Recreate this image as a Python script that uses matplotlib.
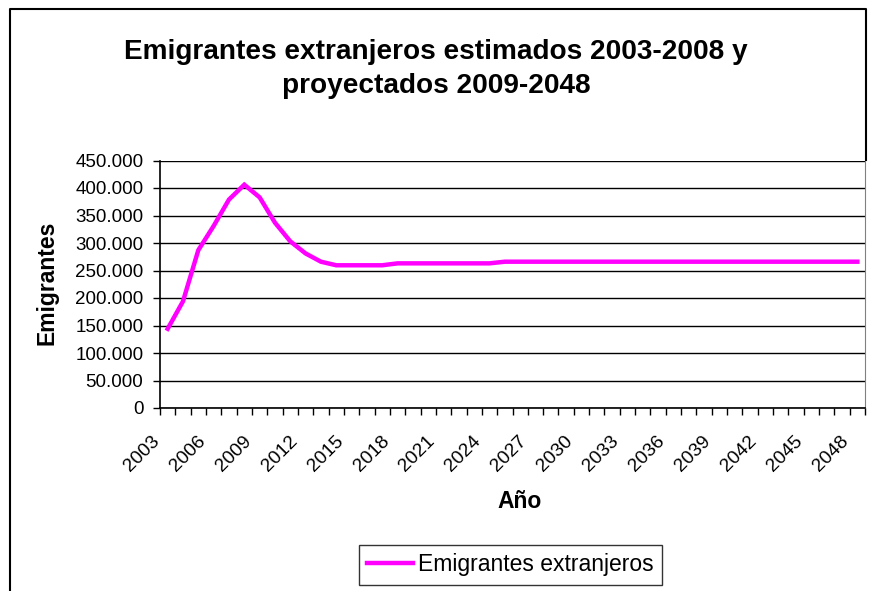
import numpy as np
import matplotlib
matplotlib.use("Agg")
import matplotlib.pyplot as plt
from matplotlib.lines import Line2D
from matplotlib.transforms import ScaledTranslation
from matplotlib.ticker import FuncFormatter

plt.rcParams['font.family'] = ['Liberation Sans', 'DejaVu Sans']

# emigrantes extranjeros por año (2003-2008 estimados, 2009-2048 proyectados)
years = list(range(2003, 2049))
emigrantes = [144000, 194000, 287000, 331000, 379000, 406000, 383000, 337000,
              303000, 281000, 266000, 259500, 259500, 259500, 259500,
              263000, 263000, 263000, 263000, 263000, 263000, 263000,
              266000, 266000, 266000, 266000, 266000, 266000, 266000, 266000,
              266000, 266000, 266000, 266000, 266000, 266000, 266000, 266000,
              266000, 266000, 266000, 266000, 266000, 266000, 266000, 266000]
label_years = years[::3]

fig = plt.figure(figsize=(8.72, 5.91), dpi=100)
ax = fig.add_axes([160 / 872, 1 - 408 / 591, 705 / 872, (408 - 160.5) / 591])

x = np.arange(len(years))
ax.plot(x, emigrantes, color='#FF00FF', lw=3.2, solid_joinstyle='miter',
        label='Emigrantes extranjeros', zorder=3)

ax.set_xlim(-0.5, len(years) - 0.5)
ax.set_ylim(0, 450000)
ax.set_yticks(np.arange(0, 450001, 50000))
ax.yaxis.set_major_formatter(FuncFormatter(lambda v, p: f"{int(v):,}".replace(',', '.')))
ax.grid(axis='y', color='black', lw=1)
ax.set_axisbelow(True)

# marcas entre categorías, etiquetas cada 3 años
ax.set_xticks(np.arange(-0.5, len(years)), labels=[])
ax.set_xticks([years.index(y) for y in label_years], labels=[str(y) for y in label_years], minor=True)
ax.tick_params(axis='x', which='major', length=5, width=1, direction='out')
ax.tick_params(axis='x', which='minor', length=0, pad=22, labelsize=13.8)
ax.tick_params(axis='y', length=5, width=1, direction='out', pad=7, labelsize=13.5)
off = ScaledTranslation(-0.11, 0, fig.dpi_scale_trans)
for lab in ax.get_xticklabels(minor=True):
    lab.set_rotation(45)
    lab.set_rotation_mode('anchor')
    lab.set_ha('right')
    lab.set_va('center')
    lab.set_transform(lab.get_transform() + off)

for s in ['left', 'bottom']:
    ax.spines[s].set_color('black')
    ax.spines[s].set_linewidth(1.2)
ax.spines['right'].set_color('#808080')
ax.spines['top'].set_visible(False)

ax.set_xlabel('Año', fontsize=16.5, fontweight='bold', labelpad=0)
ax.xaxis.set_label_coords(520 / 872, 1 - 490 / 591, transform=fig.transFigure)
ax.set_ylabel('Emigrantes', fontsize=16.5, fontweight='bold')
ax.yaxis.set_label_coords(58 / 872, 1 - 283 / 591, transform=fig.transFigure)

fig.text(436 / 872, 1 - 69 / 591, 'Emigrantes extranjeros estimados 2003-2008 y\nproyectados 2009-2048',
         ha='center', va='center', fontsize=20.2, fontweight='bold', linespacing=1.4)

leg = fig.legend(loc='center', bbox_to_anchor=(510.5 / 872, 1 - 565 / 591), fontsize=16.5,
                 frameon=True, fancybox=False, edgecolor='black', handlelength=2.0,
                 handletextpad=0.25, borderpad=0.35)
leg.get_frame().set_linewidth(1)

# marco exterior del gráfico
fx0, fx1, fy1 = 10 / 872, 866 / 872, 1 - 9 / 591
fig.add_artist(Line2D([fx0, fx0, fx1, fx1], [-0.1, fy1, fy1, 1 - 160 / 591], color='black', lw=1.5))

fig.savefig('out.png', dpi=100)
